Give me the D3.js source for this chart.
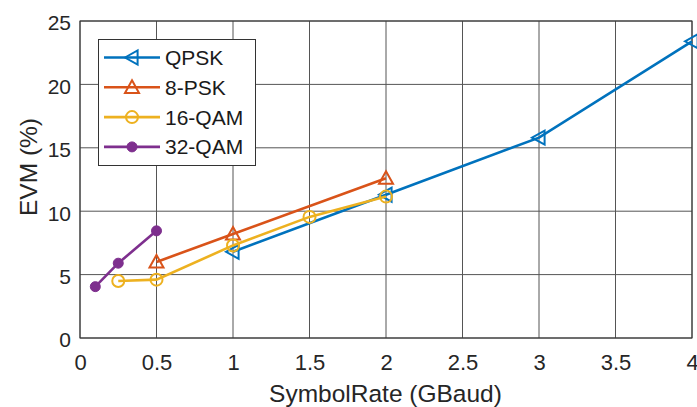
<!DOCTYPE html>
<html>
<head>
<meta charset="utf-8">
<script src="https://cdn.jsdelivr.net/npm/d3@7"></script>
<style>
  html, body { margin: 0; padding: 0; background: #fff; }
  svg { display: block; font-family: "Liberation Sans", Arial, Helvetica, sans-serif; }
</style>
</head>
<body>
<svg id="chart" width="697" height="407"></svg>
<script>
// ---- data ----
const seriesNames = ["QPSK", "8-PSK", "16-QAM", "32-QAM"];
const qpskX = [1, 2, 3, 4];
const qpskY = [6.8, 11.3, 15.8, 23.4];
const psk8X = [0.5, 1, 2];
const psk8Y = [6.0, 8.2, 12.6];
const qam16X = [0.25, 0.5, 1, 1.5, 2];
const qam16Y = [4.5, 4.6, 7.3, 9.55, 11.15];
const qam32X = [0.1, 0.25, 0.5];
const qam32Y = [4.05, 5.9, 8.45];
const xTicks = [0, 0.5, 1, 1.5, 2, 2.5, 3, 3.5, 4];
const yTicks = [0, 5, 10, 15, 20, 25];
const xLabel = "SymbolRate (GBaud)";
const yLabel = "EVM (%)";

(function () {
const colors = ["#0072BD", "#D95319", "#EDB120", "#7E2F8E"];
const markers = ["left", "up", "circle", "dot"];

const series = [
  { name: seriesNames[0], xs: qpskX, ys: qpskY },
  { name: seriesNames[1], xs: psk8X, ys: psk8Y },
  { name: seriesNames[2], xs: qam16X, ys: qam16Y },
  { name: seriesNames[3], xs: qam32X, ys: qam32Y }
].map((s, i) => ({ ...s, color: colors[i], marker: markers[i],
  pts: s.xs.map((x, j) => ({ x, y: s.ys[j] })) }));

// ---- layout ----
const svg = d3.select("#chart");
const pLeft = 80, pRight = 692, pTop = 21, pBottom = 338;
const x = d3.scaleLinear().domain([0, 4]).range([pLeft, pRight]);
const y = d3.scaleLinear().domain([0, 25]).range([pBottom, pTop]);

// grid
const grid = svg.append("g");
grid.selectAll(".vg").data(xTicks).enter().append("line")
  .attr("x1", d => x(d)).attr("x2", d => x(d))
  .attr("y1", pTop).attr("y2", pBottom)
  .attr("stroke", "#555").attr("stroke-width", 1);
grid.selectAll(".hg").data(yTicks).enter().append("line")
  .attr("y1", d => y(d)).attr("y2", d => y(d))
  .attr("x1", pLeft).attr("x2", pRight)
  .attr("stroke", "#555").attr("stroke-width", 1);

// axes via d3 axis (labels only, box drawn separately)
const xAxis = svg.append("g").attr("transform", `translate(0,${pBottom})`)
  .call(d3.axisBottom(x).tickValues(xTicks).tickSize(0).tickPadding(0).tickFormat(d3.format("")));
xAxis.select(".domain").remove();
xAxis.selectAll("text").attr("font-size", 22).attr("fill", "#262626")
  .attr("dy", null).attr("y", 32).attr("font-family", "Liberation Sans, Arial, sans-serif");

const yAxis = svg.append("g").attr("transform", `translate(${pLeft},0)`)
  .call(d3.axisLeft(y).tickValues(yTicks).tickSize(0).tickPadding(0));
yAxis.select(".domain").remove();
yAxis.selectAll("text").attr("font-size", 21).attr("fill", "#262626")
  .attr("x", -9).attr("dy", "0.42em").attr("font-family", "Liberation Sans, Arial, sans-serif");

// box
svg.append("rect").attr("x", pLeft).attr("y", pTop)
  .attr("width", pRight - pLeft).attr("height", pBottom - pTop)
  .attr("fill", "none").attr("stroke", "#333").attr("stroke-width", 1);

// axis labels
svg.append("text").attr("x", (pLeft + pRight) / 2 - 0.5).attr("y", 402)
  .attr("text-anchor", "middle").attr("font-size", 24.5).attr("fill", "#262626")
  .text(xLabel);
svg.append("text").attr("transform", `translate(37,167) rotate(-90)`)
  .attr("text-anchor", "middle").attr("font-size", 24.5).attr("fill", "#262626")
  .text(yLabel);

// marker drawing
function drawMarker(g, type, color, cx, cy) {
  if (type === "left") {
    const r = 7;
    g.append("path").attr("d", `M${cx - r},${cy} L${cx + r * 0.8},${cy - r} L${cx + r * 0.8},${cy + r} Z`)
      .attr("fill", "none").attr("stroke", color).attr("stroke-width", 2);
  } else if (type === "up") {
    const r = 7;
    g.append("path").attr("d", `M${cx},${cy - r} L${cx + r},${cy + r * 0.8} L${cx - r},${cy + r * 0.8} Z`)
      .attr("fill", "none").attr("stroke", color).attr("stroke-width", 2);
  } else if (type === "circle") {
    g.append("circle").attr("cx", cx).attr("cy", cy).attr("r", 6)
      .attr("fill", "none").attr("stroke", color).attr("stroke-width", 2);
  } else {
    g.append("circle").attr("cx", cx).attr("cy", cy).attr("r", 5)
      .attr("fill", color).attr("stroke", color).attr("stroke-width", 1);
  }
}

// lines
const line = d3.line().x(d => x(d.x)).y(d => y(d.y));
series.forEach(s => {
  const g = svg.append("g");
  g.append("path").datum(s.pts).attr("d", line)
    .attr("fill", "none").attr("stroke", s.color).attr("stroke-width", 2.6);
  s.pts.forEach(p => drawMarker(g, s.marker, s.color, x(p.x), y(p.y)));
});

// legend
const lg = svg.append("g");
lg.append("rect").attr("x", 98.5).attr("y", 39.5).attr("width", 157).attr("height", 126)
  .attr("fill", "#fff").attr("stroke", "#333").attr("stroke-width", 1);
series.forEach((s, i) => {
  const ly = 57.5 + i * 29.8;
  lg.append("line").attr("x1", 104).attr("x2", 160).attr("y1", ly).attr("y2", ly)
    .attr("stroke", s.color).attr("stroke-width", 2.6);
  drawMarker(lg, s.marker, s.color, 132, ly);
  lg.append("text").attr("x", 165).attr("y", ly).attr("dy", "0.36em")
    .attr("font-size", 21).attr("fill", "#1a1a1a").text(s.name);
});
})();
</script>
</body>
</html>
